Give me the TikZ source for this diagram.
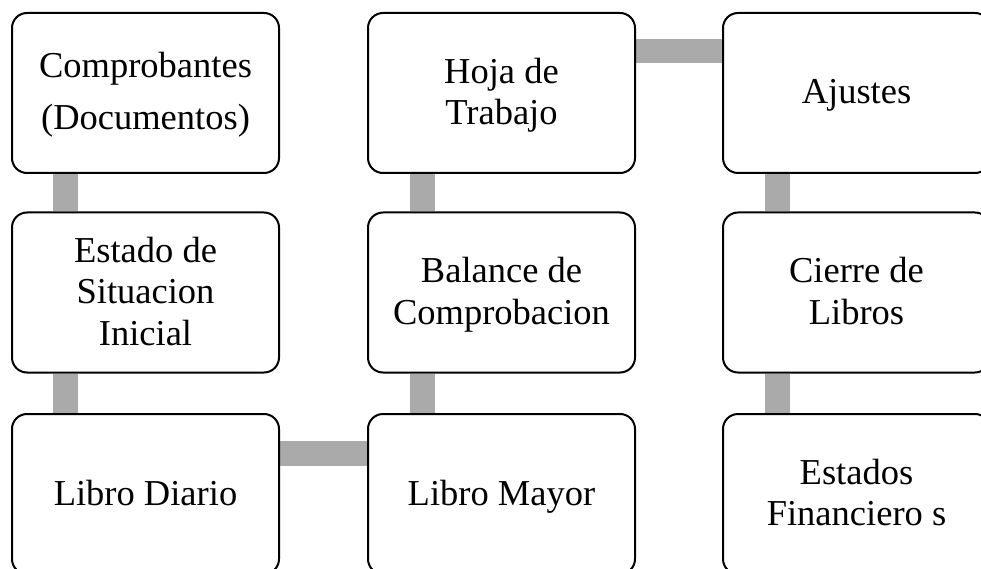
\documentclass[tikz,border=0pt]{standalone}
\usepackage{fontspec}
\setmainfont{Liberation Serif}
\definecolor{conngray}{RGB}{170,170,170}
\newcommand\mystrut{\rule[-9.75pt]{0pt}{41.5pt}}
\pgfdeclarelayer{background}
\pgfsetlayers{background,main}
\begin{document}
\begin{tikzpicture}[x=1pt,y=1pt,
  stepbox/.style={draw=black, line width=2pt, fill=white, rounded corners=15pt,
    minimum width=267pt, minimum height=160pt, inner sep=0pt, align=center,
    font=\fontsize{36.5}{41.5}\selectfont},
  conn/.style={draw=conngray, line width=24.5pt}]
\useasboundingbox (0,0) rectangle (981,-569);
\node[stepbox] (comp) at (145.5,-93) {\mystrut Comprobantes\\[10.5pt]\mystrut(Documentos)};
\node[stepbox] (esi)  at (145.5,-292.5) {\mystrut Estado de\\\mystrut Situacion\\\mystrut Inicial};
\node[stepbox] (ld)   at (145.5,-494) {\mystrut Libro Diario};
\node[stepbox] (lm)   at (501.5,-494) {\mystrut Libro Mayor};
\node[stepbox] (bc)   at (501.5,-292.5) {\mystrut Balance de\\\mystrut Comprobacion};
\node[stepbox] (ht)   at (501.5,-93) {\mystrut Hoja de\\\mystrut Trabajo};
\node[stepbox] (aj)   at (856.5,-93) {\mystrut Ajustes};
\node[stepbox] (cl)   at (856.5,-292.5) {\mystrut Cierre de\\\mystrut Libros};
\node[stepbox] (ef)   at (856.5,-494) {\mystrut Estados\\\mystrut Financiero s};
\begin{pgfonlayer}{background}
\draw[conn] ([xshift=54.5pt]comp.south west) -- ([xshift=54.5pt]esi.north west);
\draw[conn] ([xshift=54.5pt]esi.south west) -- ([xshift=54.5pt]ld.north west);
\draw[conn] ([yshift=-40.5pt]ld.north east) -- ([yshift=-40.5pt]lm.north west);
\draw[conn] ([xshift=55.5pt]lm.north west) -- ([xshift=55.5pt]bc.south west);
\draw[conn] ([xshift=55.5pt]bc.north west) -- ([xshift=55.5pt]ht.south west);
\draw[conn] ([yshift=-39pt]ht.north east) -- ([yshift=-39pt]aj.north west);
\draw[conn] ([xshift=55.5pt]aj.south west) -- ([xshift=55.5pt]cl.north west);
\draw[conn] ([xshift=55.5pt]cl.south west) -- ([xshift=55.5pt]ef.north west);
\end{pgfonlayer}
\end{tikzpicture}
\end{document}
